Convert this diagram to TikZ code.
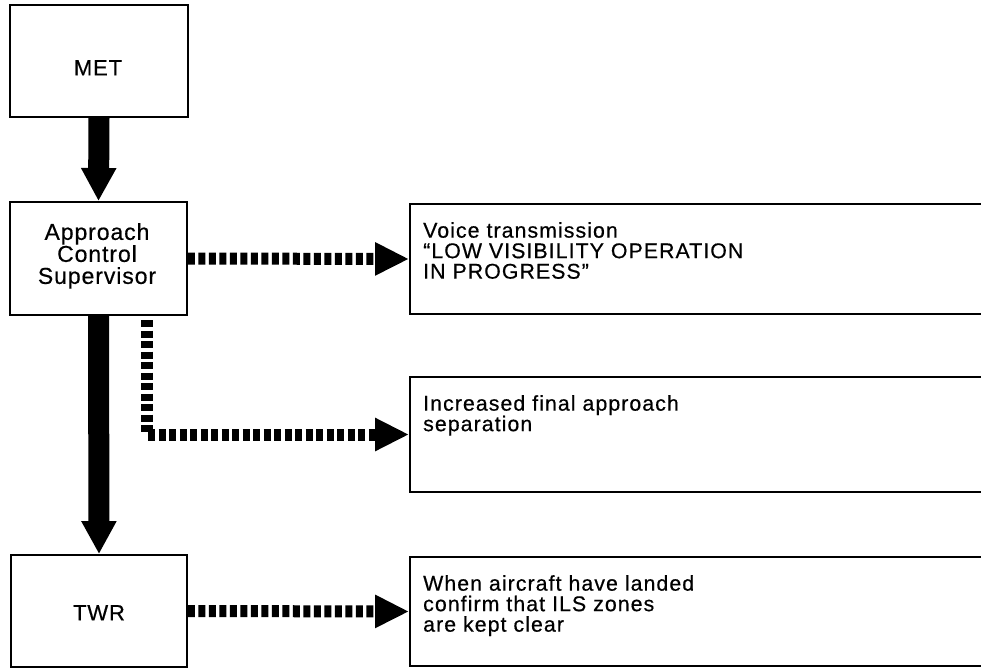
\documentclass[tikz,border=0pt]{standalone}
\usepackage{fontspec}
\setmainfont{Liberation Sans}
\newfontfamily\lblfont{Liberation Sans}[LetterSpace=4,FakeBold=0.5]
\newfontfamily\txtfont{Liberation Sans}[LetterSpace=5,FakeBold=0.5]
\usetikzlibrary{arrows.meta}
\begin{document}
\begin{tikzpicture}[x=1pt,y=-1pt,
  box/.style={draw,line width=1.9pt,inner sep=0pt},
  lbl/.style={inner sep=0pt,align=center,font=\lblfont\fontsize{22}{22}\selectfont},
  txt/.style={inner sep=0pt,align=left,anchor=north west,font=\txtfont\fontsize{21.3}{20.5}\selectfont},
  bigarrow/.style={line width=21pt,-{Triangle[length=33pt,width=33pt]}},
  dotarrow/.style={line width=12pt,dash pattern=on 7pt off 3.5pt,-{Triangle[length=34pt,width=31pt]}}]
\useasboundingbox (0,0) rectangle (981,669);
\fill[white] (0,0) rectangle (981,669);
\clip (0,0) rectangle (981,669);
% left boxes
\node[box,minimum width=178pt,minimum height=112pt] (met) at (99,61) {};
\node[box,minimum width=177pt,minimum height=113pt] (app) at (98.5,258.5) {};
\node[box,minimum width=176pt,minimum height=112pt] (twr) at (99,611) {};
% right boxes
\node[box,minimum width=580pt,minimum height=110pt] (voice) at (700,259) {};
\node[box,minimum width=580pt,minimum height=115pt] (incr) at (700,434.5) {};
\node[box,minimum width=580pt,minimum height=109pt] (when) at (700,611.5) {};
% labels
\node[lbl,anchor=north] (metl) at (98,60) {MET};
\node[lbl,anchor=north,font=\lblfont\fontsize{23}{22}\selectfont] (appl) at (97,223) {Approach\\Control\\Supervisor};
\node[lbl,anchor=north] (twrl) at (99,605) {TWR};
\node[txt] (voicel) at (423,222) {Voice transmission\\“LOW VISIBILITY OPERATION\\IN PROGRESS”};
\node[txt] (incrl) at (423,395) {Increased final approach\\separation};
\node[txt] (whenl) at (423,575) {When aircraft have landed\\confirm that ILS zones\\are kept clear};
% connectors
\draw[bigarrow] (met.south) -- (app.north);
\draw[bigarrow] (app.south) -- (twr.north);
\draw[dotarrow] (app.east) -- (voice.west);
\coordinate (c2) at (147,320);
\draw[dotarrow] (c2) |- (incr.west);
\draw[dotarrow] (twr.east) -- (when.west);
\end{tikzpicture}
\end{document}
